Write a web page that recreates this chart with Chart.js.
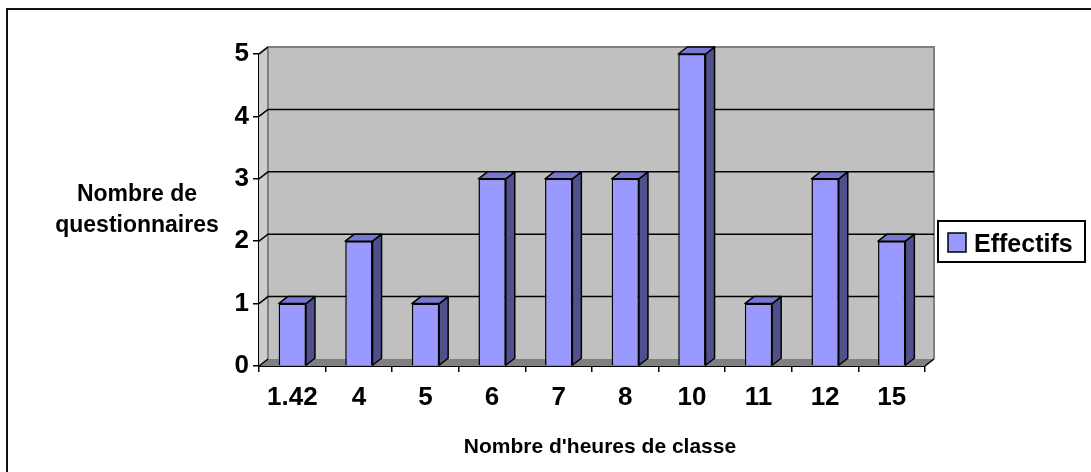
<!DOCTYPE html>
<html lang="fr">
<head>
<meta charset="UTF-8">
<title>Effectifs par nombre d'heures de classe</title>
<script src="https://cdn.jsdelivr.net/npm/chart.js@4.4.1/dist/chart.umd.min.js"></script>
<style>
    html, body { margin: 0; padding: 0; background: #ffffff; }
    canvas { display: block; }
</style>
</head>
<body>
<canvas id="heuresChart" width="1091" height="472"></canvas>
<script>
// Données
const categories = ['1.42', '4', '5', '6', '7', '8', '10', '11', '12', '15'];
const effectifs = [1, 2, 1, 3, 3, 3, 5, 1, 3, 2];
const serieLabel = 'Effectifs';
const titreX = "Nombre d'heures de classe";
const titreY = ['Nombre de', 'questionnaires'];

const POLICE = "'Liberation Sans', Arial, sans-serif";
// profondeur de l'effet 3D
const DX = 9;
const DY = -7;

// Murs, sol et quadrillage en 3D (dessinés avant les barres)
const fond3D = {
    id: 'fond3D',
    beforeDatasetsDraw(chart) {
        const ctx = chart.ctx;
        const a = chart.chartArea;
        const y = chart.scales.y;
        ctx.save();

        // mur de gauche
        ctx.fillStyle = '#cccccc';
        ctx.beginPath();
        ctx.moveTo(a.left, a.top);
        ctx.lineTo(a.left + DX, a.top + DY);
        ctx.lineTo(a.left + DX, a.bottom + DY);
        ctx.lineTo(a.left, a.bottom);
        ctx.closePath();
        ctx.fill();

        // mur du fond
        ctx.fillStyle = '#c0c0c0';
        ctx.fillRect(a.left + DX, a.top + DY, a.right - a.left, a.bottom - a.top);

        // sol
        ctx.fillStyle = '#808080';
        ctx.beginPath();
        ctx.moveTo(a.left, a.bottom);
        ctx.lineTo(a.right, a.bottom);
        ctx.lineTo(a.right + DX, a.bottom + DY);
        ctx.lineTo(a.left + DX, a.bottom + DY);
        ctx.closePath();
        ctx.fill();

        // bords gris du mur
        ctx.strokeStyle = '#808080';
        ctx.lineWidth = 2;
        ctx.beginPath();
        ctx.moveTo(a.left, a.top);
        ctx.lineTo(a.left + DX, a.top + DY);
        ctx.lineTo(a.right + DX, a.top + DY);
        ctx.lineTo(a.right + DX, a.bottom + DY);
        ctx.moveTo(a.left + DX, a.top + DY);
        ctx.lineTo(a.left + DX, a.bottom + DY);
        ctx.stroke();

        // quadrillage sur le mur du fond + diagonales sur le mur de gauche
        ctx.strokeStyle = '#000000';
        ctx.lineWidth = 1.5;
        y.ticks.forEach(t => {
            const py = y.getPixelForValue(t.value);
            ctx.beginPath();
            ctx.moveTo(a.left, py);
            ctx.lineTo(a.left + DX, py + DY);
            if (t.value > y.min && t.value < y.max) {
                ctx.lineTo(a.right + DX, py + DY);
            }
            ctx.stroke();
        });

        // diagonale au bout de l'axe X
        ctx.beginPath();
        ctx.moveTo(a.right, a.bottom);
        ctx.lineTo(a.right + DX, a.bottom + DY);
        ctx.stroke();
        ctx.restore();
    }
};

// Côtés et dessus des colonnes
const colonnes3D = {
    id: 'colonnes3D',
    afterDatasetsDraw(chart) {
        const ctx = chart.ctx;
        const meta = chart.getDatasetMeta(0);
        ctx.save();
        ctx.strokeStyle = '#000000';
        ctx.lineWidth = 1.5;
        ctx.lineJoin = 'round';
        meta.data.forEach(bar => {
            const p = bar.getProps(['x', 'y', 'base', 'width'], true);
            const x1 = p.x - p.width / 2;
            const x2 = p.x + p.width / 2;

            // côté droit
            ctx.fillStyle = '#50508c';
            ctx.beginPath();
            ctx.moveTo(x2, p.y);
            ctx.lineTo(x2 + DX, p.y + DY);
            ctx.lineTo(x2 + DX, p.base + DY);
            ctx.lineTo(x2, p.base);
            ctx.closePath();
            ctx.fill();
            ctx.stroke();

            // dessus
            ctx.fillStyle = '#7878d2';
            ctx.beginPath();
            ctx.moveTo(x1, p.y);
            ctx.lineTo(x2, p.y);
            ctx.lineTo(x2 + DX, p.y + DY);
            ctx.lineTo(x1 + DX, p.y + DY);
            ctx.closePath();
            ctx.fill();
            ctx.stroke();
        });
        ctx.restore();
    }
};

// Titres des axes, légende et cadre
const habillage = {
    id: 'habillage',
    afterDraw(chart) {
        const ctx = chart.ctx;
        ctx.save();
        ctx.fillStyle = '#000000';

        // titre de l'axe Y (horizontal, sur deux lignes)
        ctx.font = 'bold 23px ' + POLICE;
        ctx.textAlign = 'center';
        ctx.textBaseline = 'alphabetic';
        ctx.fillText(titreY[0], 137, 201);
        ctx.fillText(titreY[1], 137, 232);

        // titre de l'axe X
        ctx.font = 'bold 21px ' + POLICE;
        ctx.fillText(titreX, 600, 453);

        // légende
        ctx.strokeStyle = '#000000';
        ctx.lineWidth = 2;
        ctx.strokeRect(938, 221, 147, 41);
        ctx.fillStyle = '#9999ff';
        ctx.fillRect(948, 233, 18, 19);
        ctx.lineWidth = 1.5;
        ctx.strokeRect(948, 233, 18, 19);
        ctx.fillStyle = '#000000';
        ctx.font = 'bold 25px ' + POLICE;
        ctx.textAlign = 'left';
        ctx.fillText(serieLabel, 974, 252);

        // cadre extérieur (haut et gauche)
        ctx.lineWidth = 2;
        ctx.strokeStyle = '#111111';
        ctx.beginPath();
        ctx.moveTo(7, 472);
        ctx.lineTo(7, 9);
        ctx.lineTo(1091, 9);
        ctx.stroke();
        ctx.restore();
    }
};

function initChart() {
    const ctx = document.getElementById('heuresChart').getContext('2d');
    return new Chart(ctx, {
        type: 'bar',
        data: {
            labels: categories,
            datasets: [{
                label: serieLabel,
                data: effectifs,
                backgroundColor: '#9999ff',
                borderColor: '#000000',
                borderWidth: 1.5,
                categoryPercentage: 1,
                barPercentage: 0.41
            }]
        },
        options: {
            responsive: false,
            animation: false,
            layout: {
                padding: { top: 54, right: 166, bottom: 0, left: 0 }
            },
            plugins: {
                legend: { display: false },
                tooltip: { enabled: false }
            },
            scales: {
                x: {
                    offset: true,
                    afterFit: function(scale) { scale.height = 106; },
                    grid: {
                        offset: true,
                        drawOnChartArea: false,
                        drawTicks: true,
                        tickLength: 6,
                        color: '#000000',
                        lineWidth: 1.5
                    },
                    border: { display: true, color: '#000000', width: 2 },
                    ticks: {
                        color: '#000000',
                        padding: 10,
                        maxRotation: 0,
                        font: { family: POLICE, size: 26, weight: 'bold' }
                    }
                },
                y: {
                    min: 0,
                    max: 5,
                    afterFit: function(scale) { scale.width = 259; },
                    grid: {
                        drawOnChartArea: false,
                        drawTicks: true,
                        tickLength: 6,
                        color: '#000000',
                        lineWidth: 1.5
                    },
                    border: { display: true, color: '#000000', width: 2 },
                    ticks: {
                        stepSize: 1,
                        color: '#000000',
                        padding: 4,
                        font: { family: POLICE, size: 26, weight: 'bold' }
                    }
                }
            }
        },
        plugins: [fond3D, colonnes3D, habillage]
    });
}

document.addEventListener('DOMContentLoaded', function() {
    initChart();
});
</script>
</body>
</html>
